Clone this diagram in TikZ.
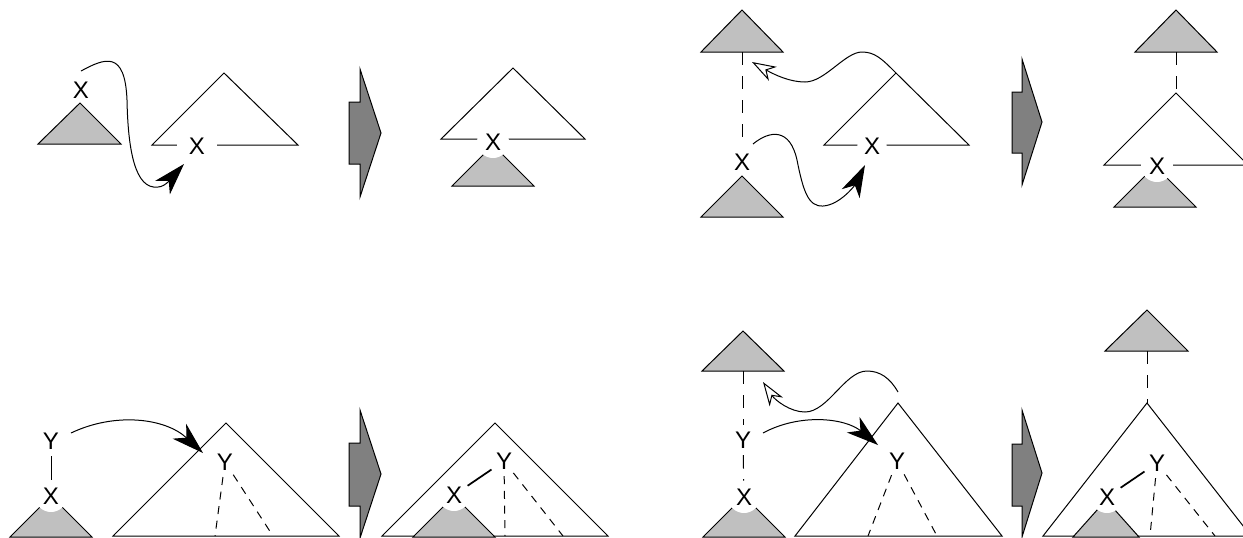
\documentclass[tikz,border=0pt]{standalone}
\usepackage{fontspec}
\setmainfont{Liberation Sans}
\usetikzlibrary{arrows.meta}
\definecolor{subtreegray}{RGB}{192,192,192}
\definecolor{stepgray}{RGB}{128,128,128}

\begin{document}
\begin{tikzpicture}[x=0.75pt,y=0.75pt,yscale=-1,xscale=1,line width=0.75pt,
  lbl/.style={circle,inner sep=0pt,minimum size=22pt,font=\fontsize{18}{21}\selectfont},
  joint/.style={lbl,fill=white,minimum size=24pt},
  gapped/.style={lbl,fill=white,minimum size=30pt},
  subtree/.style={fill=subtreegray},
  stepshape/.style={fill=stepgray},
  dashlink/.style={dash pattern=on 10pt off 8pt},
  dashsub/.style={dash pattern=on 6pt off 5pt},
  graft/.style={line width=1.3pt},
  tipfull/.style={-{Stealth[length=24pt,width=15pt,inset=7pt]}},
  tipopen/.style={-{Stealth[length=18pt,width=12pt,inset=5.5pt,fill=white]}}]
\path[use as bounding box] (0,0) rectangle (1243,537);

%%%% top left: before
%Shape: Triangle
\draw [subtree] (38,144) -- (80,103) -- (121,144) -- cycle ;
%Shape: Triangle
\draw    (152,145) -- (224,73) -- (298,145) -- cycle ;
% Text Node
\draw (81,90) node (x1) [lbl] {X};
\draw (197,146) node (x2) [gapped] {X};
%Curve Lines
\coordinate (c1a) at (81,71) ;
\coordinate (c1b) at (184,164) ;
\draw [tipfull] (c1a) .. controls (105,58) and (125,50) .. (127,100) .. controls (128,150) and (135,190) .. (158,187) .. controls (166,187) and (174,175) .. (c1b) ;
%Shape: Step arrow
\draw [stepshape] (349,102) -- (360,102) -- (360,69) -- (381,133) -- (360,197) -- (360,164) -- (349,164) -- cycle ;

%%%% top left: after
\draw    (441,139) -- (513,68) -- (585,139) -- cycle ;
\draw [subtree] (452,186) -- (493,145) -- (534,186) -- cycle ;
\draw (493,142) node (x3) [joint] {X};

%%%% top right: before
\draw [subtree] (701,52) -- (742,10) -- (783,52) -- cycle ;
\draw [subtree] (701,217) -- (742,176) -- (783,217) -- cycle ;
\draw (742,162) node (x4) [lbl] {X};
\coordinate (r4) at (742,52) ;
\draw [dashlink] (r4) -- (x4) ;
%Straight Lines
\coordinate (c4a) at (896,73) ;
\draw    (c4a) -- (824,145) -- (969,145) -- (c4a) ;
\draw (872,146) node (x5) [lbl,fill=white] {X};
%Curve Lines
\coordinate (c4b) at (752,62) ;
\draw [tipopen] (c4a) .. controls (882,59) and (875,52) .. (862,52) .. controls (845,52) and (825,82) .. (805,82) .. controls (790,82) and (775,75) .. (c4b) ;
\coordinate (c4c) at (753,144) ;
\coordinate (c4d) at (865,165) ;
\draw [tipfull] (c4c) .. controls (770,130) and (790,128) .. (797,160) .. controls (803,190) and (808,207) .. (823,206) .. controls (840,205) and (855,185) .. (c4d) ;
\draw [stepshape] (1012,92) -- (1022,92) -- (1022,59) -- (1042,122) -- (1022,185) -- (1022,153) -- (1012,153) -- cycle ;

%%%% top right: after
\draw [subtree] (1135,52) -- (1176,10) -- (1217,52) -- cycle ;
\coordinate (r6) at (1176,52) ;
\coordinate (a6) at (1176,93) ;
\draw [dashlink] (r6) -- (a6) ;
\draw    (1104,165) -- (a6) -- (1248,165) -- cycle ;
\draw [subtree] (1114,207) -- (1155,166) -- (1196,207) -- cycle ;
\draw (1157,166) node (x6) [joint] {X};

%%%% bottom left: before
\draw [subtree] (10,537) -- (51,496) -- (92,537) -- cycle ;
\draw (51,441) node (y7) [lbl] {Y};
\draw (51,496) node (x7) [joint] {X};
\draw    (y7) -- (x7) ;
\draw    (113,536) -- (226,423) -- (339,536) -- cycle ;
\draw (225,462) node (y8) [lbl] {Y};
\coordinate (b8l) at (215,536) ;
\coordinate (b8r) at (273,536) ;
\draw [dashsub] (y8) -- (b8l) ;
\draw [dashsub] (y8) -- (b8r) ;
\coordinate (c7a) at (71,433) ;
\coordinate (c7b) at (203,453) ;
\draw [tipfull] (c7a) .. controls (115,412) and (165,418) .. (c7b) ;
\draw [stepshape] (349,443) -- (360,443) -- (360,410) -- (381,474) -- (360,538) -- (360,506) -- (349,506) -- cycle ;

%%%% bottom left: after
\draw    (382,536) -- (495,423) -- (608,536) -- cycle ;
\draw [subtree] (413,537) -- (454,496) -- (495,537) -- cycle ;
\draw (454,495) node (x9) [joint] {X};
\draw (504,461) node (y9) [lbl] {Y};
\draw [graft] (x9) -- (y9) ;
\coordinate (b9l) at (505,536) ;
\coordinate (b9r) at (563,536) ;
\draw [dashsub] (y9) -- (b9l) ;
\draw [dashsub] (y9) -- (b9r) ;

%%%% bottom right: before
\draw [subtree] (702,371) -- (743,331) -- (784,371) -- cycle ;
\draw [subtree] (703,537) -- (744,496) -- (785,537) -- cycle ;
\draw (743,440) node (y10) [lbl] {Y};
\draw (744,497) node (x10) [joint] {X};
\coordinate (r10) at (743,371) ;
\draw [dashlink] (r10) -- (y10) ;
\draw [dashlink] (y10) -- (x10) ;
\draw    (795,536) -- (898,403) -- (1002,536) -- cycle ;
\draw (897,461) node (y11) [lbl] {Y};
\coordinate (b11l) at (868,536) ;
\coordinate (b11r) at (937,536) ;
\draw [dashsub] (y11) -- (b11l) ;
\draw [dashsub] (y11) -- (b11r) ;
\coordinate (c10a) at (898,392) ;
\coordinate (c10b) at (763,382) ;
\draw [tipopen] (c10a) .. controls (890,378) and (880,371) .. (867,371) .. controls (845,371) and (828,412) .. (805,412) .. controls (790,412) and (775,400) .. (c10b) ;
\coordinate (c10c) at (763,433) ;
\coordinate (c10d) at (878,445) ;
\draw [tipfull] (c10c) .. controls (800,413) and (845,418) .. (c10d) ;
\draw [stepshape] (1012,444) -- (1022,444) -- (1022,410) -- (1042,473) -- (1022,537) -- (1022,506) -- (1012,506) -- cycle ;

%%%% bottom right: after
\draw [subtree] (1105,351) -- (1147,310) -- (1188,351) -- cycle ;
\coordinate (r12) at (1147,351) ;
\coordinate (a12) at (1147,403) ;
\draw [dashlink] (r12) -- (a12) ;
\draw    (1043,536) -- (a12) -- (1251,536) -- cycle ;
\draw [subtree] (1073,537) -- (1106,500) -- (1139,537) -- cycle ;
\draw (1107,497) node (x12) [joint] {X};
\draw (1157,463) node (y12) [lbl] {Y};
\draw [graft] (x12) -- (y12) ;
\coordinate (b12l) at (1150,536) ;
\coordinate (b12r) at (1215,536) ;
\draw [dashsub] (y12) -- (b12l) ;
\draw [dashsub] (y12) -- (b12r) ;
\end{tikzpicture}
\end{document}
